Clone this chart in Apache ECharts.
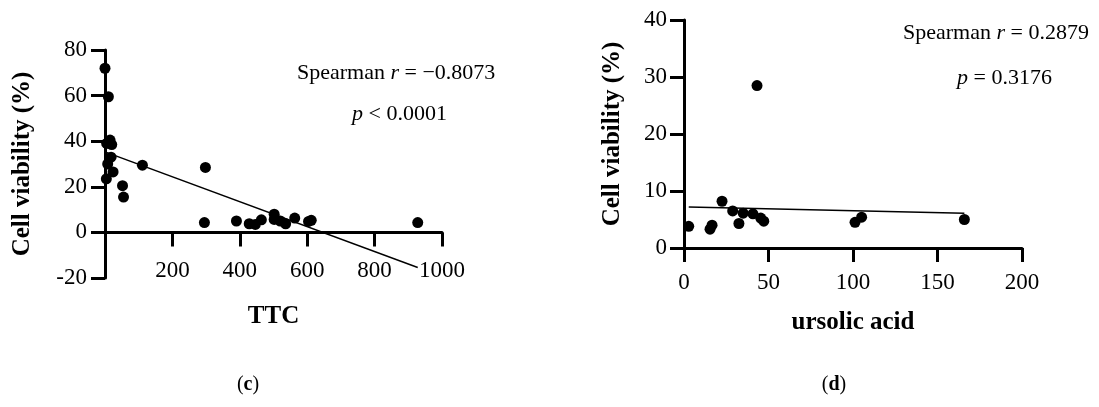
<!DOCTYPE html>
<html>
<head>
<meta charset="utf-8">
<script src="https://cdn.jsdelivr.net/npm/echarts@6/dist/echarts.min.js"></script>
<style>
html,body{margin:0;padding:0;background:#fff;}
#chart{width:1099px;height:407px;}
</style>
</head>
<body>
<div id="chart"></div>
<script>
// ---- data (c): TTC vs cell viability ----
var ttcX = [0, 10, 5, 15, 20, 18, 8, 24, 4, 52, 55, 111, 298, 295, 390, 428, 446, 464, 502, 502, 520, 536, 563, 604, 612, 928];
var ttcY = [72, 59.5, 39, 40.5, 38.5, 33, 30, 26.5, 23.5, 20.5, 15.5, 29.5, 28.5, 4.3, 5, 3.8, 3.5, 5.5, 8, 5.7, 5, 3.8, 6.3, 4.8, 5.3, 4.3];
var ttcFitX = [0, 928];
var ttcFitY = [35.3, -15.4];
var ttcTicksX = [0, 200, 400, 600, 800, 1000];
var ttcTicksY = [-20, 0, 20, 40, 60, 80];

// ---- data (d): ursolic acid vs cell viability ----
var uaX = [2.8, 15.4, 16.6, 22.5, 28.8, 32.5, 35, 40.8, 43.2, 45.4, 47.2, 101.2, 105.1, 165.9];
var uaY = [3.8, 3.3, 4.0, 8.2, 6.5, 4.3, 6.1, 6.0, 28.5, 5.25, 4.7, 4.5, 5.4, 5.0];
var uaFitX = [2.8, 165.9];
var uaFitY = [7.2, 6.1];
var uaTicksX = [0, 50, 100, 150, 200];
var uaTicksY = [0, 10, 20, 30, 40];

var statsC = {r: '\u22120.8073', p: '< 0.0001'};
var statsD = {r: '0.2879', p: '= 0.3176'};
var yTitle = 'Cell viability (%)';
var xTitleC = 'TTC';
var xTitleD = 'ursolic acid';

function zip(a, b) { return a.map(function (v, i) { return [v, b[i]]; }); }

var FONT = '"Liberation Serif", "DejaVu Serif", serif';
var BLACK = '#000';

function axisCommon(extra) {
  var base = {
    type: 'value',
    axisLine: {show: true, onZero: true, lineStyle: {color: BLACK, width: 3}},
    axisTick: {show: true, inside: false, length: 14, lineStyle: {color: BLACK, width: 3}},
    splitLine: {show: false},
    axisLabel: {color: BLACK, fontFamily: FONT, fontSize: 23},
    nameTextStyle: {color: BLACK, fontFamily: FONT, fontSize: 25, fontWeight: 'bold'},
    nameLocation: 'middle'
  };
  for (var k in extra) {
    if (typeof extra[k] === 'object' && base[k] && !Array.isArray(extra[k])) {
      for (var j in extra[k]) base[k][j] = extra[k][j];
    } else base[k] = extra[k];
  }
  return base;
}

var chart = echarts.init(document.getElementById('chart'), null, {renderer: 'canvas'});
var option = {
  animation: false,
  backgroundColor: '#fff',
  grid: [
    {left: 105, top: 50, width: 337, height: 228, containLabel: false},
    {left: 684, top: 20, width: 338, height: 228, containLabel: false}
  ],
  xAxis: [
    axisCommon({gridIndex: 0, min: ttcTicksX[0], max: ttcTicksX[ttcTicksX.length - 1], interval: 200,
      name: xTitleC, nameGap: 26,
      axisLabel: {margin: -19, formatter: function (v) { return v === 0 ? '' : String(v); }}}),
    axisCommon({gridIndex: 1, min: uaTicksX[0], max: uaTicksX[uaTicksX.length - 1], interval: 50,
      name: xTitleD, nameGap: 62,
      axisLabel: {margin: 23}})
  ],
  yAxis: [
    axisCommon({gridIndex: 0, min: ttcTicksY[0], max: ttcTicksY[ttcTicksY.length - 1], interval: 20,
      name: yTitle, nameGap: 70, nameRotate: 90,
      axisLine: {onZero: false},
      axisLabel: {margin: 18}}),
    axisCommon({gridIndex: 1, min: uaTicksY[0], max: uaTicksY[uaTicksY.length - 1], interval: 10,
      name: yTitle, nameGap: 59, nameRotate: 90,
      axisLine: {onZero: false},
      axisLabel: {margin: 17}})
  ],
  series: [
    {type: 'scatter', xAxisIndex: 0, yAxisIndex: 0, data: zip(ttcX, ttcY),
      symbolSize: 11, itemStyle: {color: BLACK, opacity: 1}, z: 3},
    {type: 'line', xAxisIndex: 0, yAxisIndex: 0, data: zip(ttcFitX, ttcFitY),
      symbol: 'none', lineStyle: {color: BLACK, width: 1.5}, z: 2},
    {type: 'scatter', xAxisIndex: 1, yAxisIndex: 1, data: zip(uaX, uaY),
      symbolSize: 11, itemStyle: {color: BLACK, opacity: 1}, z: 3},
    {type: 'line', xAxisIndex: 1, yAxisIndex: 1, data: zip(uaFitX, uaFitY),
      symbol: 'none', lineStyle: {color: BLACK, width: 1.5}, z: 2}
  ],
  graphic: [
    {type: 'text', x: 297, y: 73, style: {
      text: '{n|Spearman }{i|r}{n| = ' + statsC.r + '}', verticalAlign: 'middle',
      rich: {n: {fontFamily: FONT, fontSize: 22, fill: BLACK}, i: {fontFamily: FONT, fontSize: 22, fontStyle: 'italic', fill: BLACK}}}},
    {type: 'text', x: 352, y: 114, style: {
      text: '{i|p}{n| ' + statsC.p + '}', verticalAlign: 'middle',
      rich: {n: {fontFamily: FONT, fontSize: 22, fill: BLACK}, i: {fontFamily: FONT, fontSize: 22, fontStyle: 'italic', fill: BLACK}}}},
    {type: 'text', x: 903, y: 33, style: {
      text: '{n|Spearman }{i|r}{n| = ' + statsD.r + '}', verticalAlign: 'middle',
      rich: {n: {fontFamily: FONT, fontSize: 22, fill: BLACK}, i: {fontFamily: FONT, fontSize: 22, fontStyle: 'italic', fill: BLACK}}}},
    {type: 'text', x: 957, y: 78, style: {
      text: '{i|p}{n| ' + statsD.p + '}', verticalAlign: 'middle',
      rich: {n: {fontFamily: FONT, fontSize: 22, fill: BLACK}, i: {fontFamily: FONT, fontSize: 22, fontStyle: 'italic', fill: BLACK}}}},
    {type: 'text', x: 248, y: 385, style: {
      text: '{n|(}{b|c}{n|)}', align: 'center', verticalAlign: 'middle',
      rich: {n: {fontFamily: FONT, fontSize: 20, fill: BLACK}, b: {fontFamily: FONT, fontSize: 20, fontWeight: 'bold', fill: BLACK}}}},
    {type: 'text', x: 834, y: 385, style: {
      text: '{n|(}{b|d}{n|)}', align: 'center', verticalAlign: 'middle',
      rich: {n: {fontFamily: FONT, fontSize: 20, fill: BLACK}, b: {fontFamily: FONT, fontSize: 20, fontWeight: 'bold', fill: BLACK}}}}
  ]
};
chart.setOption(option);
</script>
</body>
</html>
